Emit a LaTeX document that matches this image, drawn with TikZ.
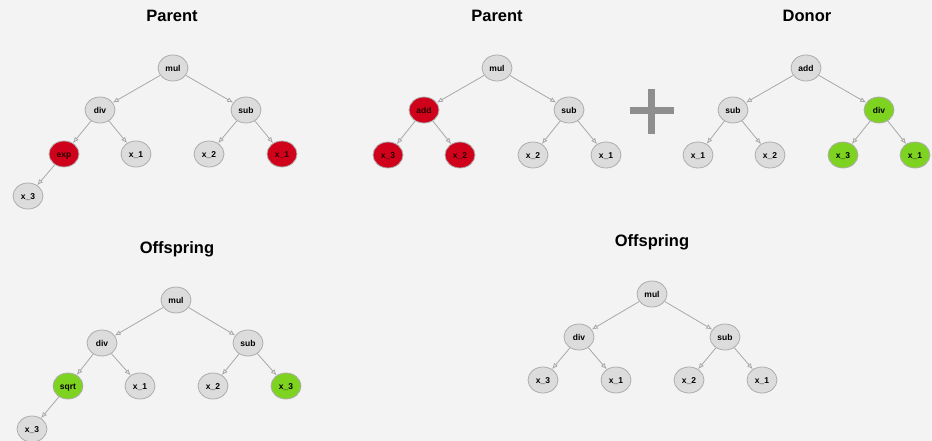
\documentclass[tikz,border=0pt]{standalone}
\usepackage{fontspec}
\setmainfont{Liberation Sans}
\usetikzlibrary{shapes,arrows.meta}
\definecolor{bggray}{HTML}{F3F3F3}
\definecolor{nodegray}{HTML}{DCDCDC}
\definecolor{bordergray}{HTML}{ADADAD}
\definecolor{edgegray}{HTML}{A8A8A8}
\definecolor{plusgray}{HTML}{8E8E8E}
\definecolor{cutred}{HTML}{D0021B}
\definecolor{donorgreen}{HTML}{7ED321}

\begin{document}
\begin{tikzpicture}[x=1pt,y=-1pt,
  gene/.style={ellipse,draw=bordergray,fill=nodegray,line width=0.8pt,
    minimum width=30pt,minimum height=26pt,inner sep=0pt,
    text height=6.2pt,text depth=0pt,
    font=\fontsize{8.5}{9}\selectfont\bfseries},
  cut/.style={gene,fill=cutred,text=black!85!red},
  graft/.style={gene,fill=donorgreen},
  title/.style={font=\fontsize{16.5}{18}\selectfont\bfseries},
  edge/.style={draw=edgegray,line width=0.8pt,-{Latex[open,length=6pt,width=5pt]}}]
\fill[bggray] (0,0) rectangle (932,441);
\useasboundingbox (0,0) rectangle (932,441);

% first parent
\node[title] (ttla) at (172,16) {Parent};
\node[gene] (pamul) at (173,68) {mul};
\node[gene] (padiv) at (100,110) {div};
\node[gene] (pasub) at (246,110) {sub};
\node[cut]  (paexp) at (64,154) {exp};
\node[gene] (paxa) at (136,154) {x\_1};
\node[gene] (paxb) at (209,154) {x\_2};
\node[cut]  (paxc) at (282,154) {x\_1};
\node[gene] (paxd) at (28,196) {x\_3};
\draw[edge] (pamul) -- (padiv);
\draw[edge] (pamul) -- (pasub);
\draw[edge] (padiv) -- (paexp);
\draw[edge] (padiv) -- (paxa);
\draw[edge] (pasub) -- (paxb);
\draw[edge] (pasub) -- (paxc);
\draw[edge] (paexp) -- (paxd);

% second parent
\node[title] (ttlb) at (497,16) {Parent};
\node[gene] (pbmul) at (497,68) {mul};
\node[cut]  (pbadd) at (424,110) {add};
\node[gene] (pbsub) at (569,110) {sub};
\node[cut]  (pbxa) at (388,155) {x\_3};
\node[cut]  (pbxb) at (460,155) {x\_2};
\node[gene] (pbxc) at (533,155) {x\_2};
\node[gene] (pbxd) at (606,155) {x\_1};
\draw[edge] (pbmul) -- (pbadd);
\draw[edge] (pbmul) -- (pbsub);
\draw[edge] (pbadd) -- (pbxa);
\draw[edge] (pbadd) -- (pbxb);
\draw[edge] (pbsub) -- (pbxc);
\draw[edge] (pbsub) -- (pbxd);

% plus sign
\draw[plusgray,line width=7pt] (630,111) -- (674,111);
\draw[plusgray,line width=7pt] (651,89) -- (651,134);

% donor
\node[title] (ttlc) at (807,16) {Donor};
\node[gene]  (dnadd) at (806,68) {add};
\node[gene]  (dnsub) at (733,110) {sub};
\node[graft] (dndiv) at (879,110) {div};
\node[gene]  (dnxa) at (698,155) {x\_1};
\node[gene]  (dnxb) at (770,155) {x\_2};
\node[graft] (dnxc) at (843,155) {x\_3};
\node[graft] (dnxd) at (915,155) {x\_1};
\draw[edge] (dnadd) -- (dnsub);
\draw[edge] (dnadd) -- (dndiv);
\draw[edge] (dnsub) -- (dnxa);
\draw[edge] (dnsub) -- (dnxb);
\draw[edge] (dndiv) -- (dnxc);
\draw[edge] (dndiv) -- (dnxd);

% first offspring
\node[title] (ttld) at (177,249) {Offspring};
\node[gene]  (oamul) at (176,300) {mul};
\node[gene]  (oadiv) at (102,343) {div};
\node[gene]  (oasub) at (248,343) {sub};
\node[graft] (oasqrt) at (68,386) {sqrt};
\node[gene]  (oaxa) at (140,386) {x\_1};
\node[gene]  (oaxb) at (213,386) {x\_2};
\node[graft] (oaxc) at (286,386) {x\_3};
\node[gene]  (oaxd) at (32,429) {x\_3};
\draw[edge] (oamul) -- (oadiv);
\draw[edge] (oamul) -- (oasub);
\draw[edge] (oadiv) -- (oasqrt);
\draw[edge] (oadiv) -- (oaxa);
\draw[edge] (oasub) -- (oaxb);
\draw[edge] (oasub) -- (oaxc);
\draw[edge] (oasqrt) -- (oaxd);

% second offspring
\node[title] (ttle) at (652,242) {Offspring};
\node[gene] (obmul) at (652,294) {mul};
\node[gene] (obdiv) at (579,337) {div};
\node[gene] (obsub) at (725,337) {sub};
\node[gene] (obxa) at (543,380) {x\_3};
\node[gene] (obxb) at (616,380) {x\_1};
\node[gene] (obxc) at (689,380) {x\_2};
\node[gene] (obxd) at (762,380) {x\_1};
\draw[edge] (obmul) -- (obdiv);
\draw[edge] (obmul) -- (obsub);
\draw[edge] (obdiv) -- (obxa);
\draw[edge] (obdiv) -- (obxb);
\draw[edge] (obsub) -- (obxc);
\draw[edge] (obsub) -- (obxd);

\end{tikzpicture}
\end{document}
